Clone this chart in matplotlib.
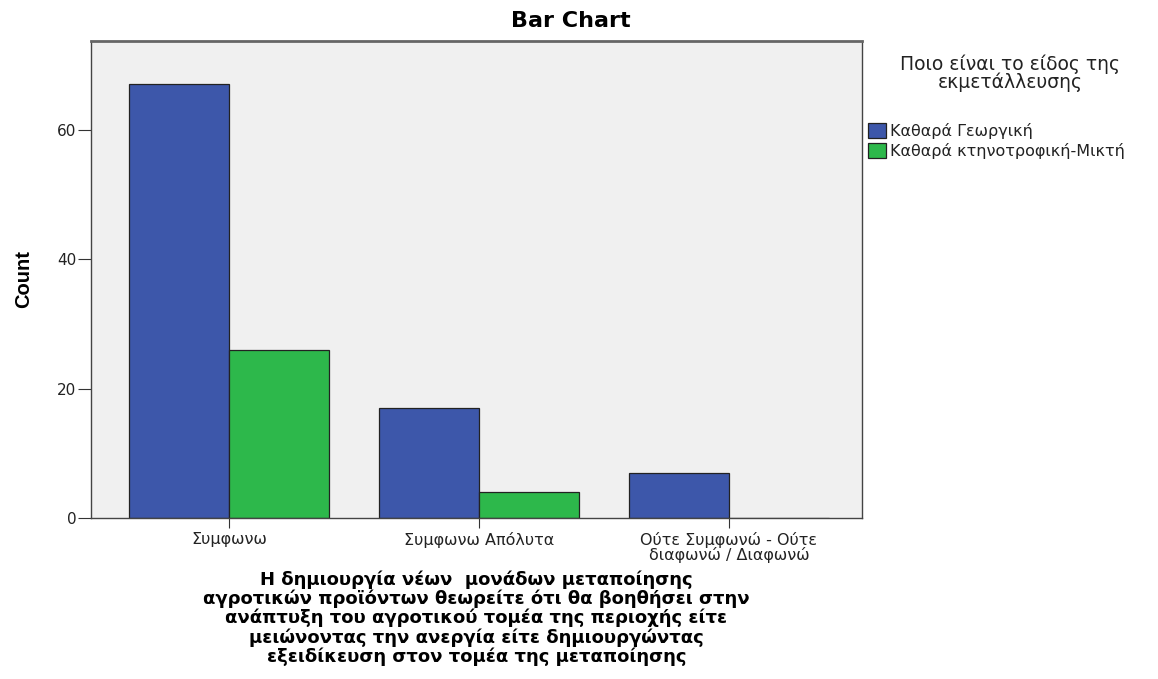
import matplotlib
matplotlib.use("Agg")
import matplotlib.pyplot as plt
import numpy as np

plt.rcParams["font.family"] = ["DejaVu Sans"]

# Данные
categories = ["Συμφωνω", "Συμφωνω Απόλυτα", "Ούτε Συμφωνώ - Ούτε\nδιαφωνώ / Διαφωνώ"]
series_names = ["Καθαρά Γεωργική", "Καθαρά κτηνοτροφική-Μικτή"]
georgiki = [67, 17, 7]
ktinotrofiki = [26, 4, 0]

colors = ["#3d57aa", "#2db84b"]
width = 0.4
W, H = 1158, 679

fig = plt.figure(figsize=(W / 100, H / 100), dpi=100)
ax = fig.add_axes([91 / W, 1 - 518 / H, (862 - 91) / W, (518 - 41) / H])
ax.set_facecolor("#f0f0f0")

x = np.arange(len(categories))
for i, (vals, name) in enumerate(zip([georgiki, ktinotrofiki], series_names)):
    pos = x + (i - 0.5) * width
    ax.bar(pos, vals, width=width, color=colors[i], edgecolor="#222222",
           linewidth=0.9, label=name, zorder=2)

ax.set_xlim(-0.552, 2.532)
ax.set_ylim(0, 73.7)
ax.set_yticks([0, 20, 40, 60])
ax.set_xticks(x)
ax.set_xticklabels(categories, fontsize=11.5, linespacing=0.9)
ax.tick_params(axis="y", direction="out", length=9.5, pad=1, labelsize=11,
               color="#333333", labelcolor="#222222")
ax.tick_params(axis="x", direction="out", length=7, pad=3, color="#333333",
               labelcolor="#222222")

for side in ["left", "bottom", "right"]:
    ax.spines[side].set_color("#444444")
    ax.spines[side].set_linewidth(1.0)
ax.spines["top"].set_color("#666666")
ax.spines["top"].set_linewidth(2.0)

# Подпись оси Y
ax.set_ylabel("Count", fontsize=14.5, fontweight="bold", family="Liberation Sans")
ax.yaxis.set_label_coords(-0.075, 0.5)

# Заголовок по центру всей фигуры
fig.text(571 / W, 1 - 21 / H, "Bar Chart", fontsize=16, fontweight="bold",
         ha="center", va="center")

xlabel = ("Η δημιουργία νέων  μονάδων μεταποίησης\n"
          "αγροτικών προϊόντων θεωρείτε ότι θα βοηθήσει στην\n"
          "ανάπτυξη του αγροτικού τομέα της περιοχής είτε\n"
          "μειώνοντας την ανεργία είτε δημιουργώντας\n"
          "εξειδίκευση στον τομέα της μεταποίησης")
ax.set_xlabel(xlabel, fontsize=13, fontweight="bold", linespacing=1.05)
ax.xaxis.set_label_coords(0.5, -0.11)

# Заголовок легенды отдельным текстом
fig.text(1010 / W, 1 - 54 / H, "Ποιο είναι το είδος της\nεκμετάλλευσης",
         fontsize=13.5, ha="center", va="top", multialignment="center",
         linespacing=0.95, color="#222222")

leg = ax.legend(loc="upper left", bbox_to_anchor=(868 / W, 1 - 123 / H),
                bbox_transform=fig.transFigure, frameon=False,
                fontsize=11.5, handlelength=1.1, handleheight=1.0,
                handletextpad=0.25, labelspacing=0.25, borderaxespad=0.0,
                borderpad=0.0)
for h in leg.legend_handles:
    h.set_edgecolor("#222222")
for t in leg.get_texts():
    t.set_color("#222222")

fig.savefig("out.png", dpi=100)
